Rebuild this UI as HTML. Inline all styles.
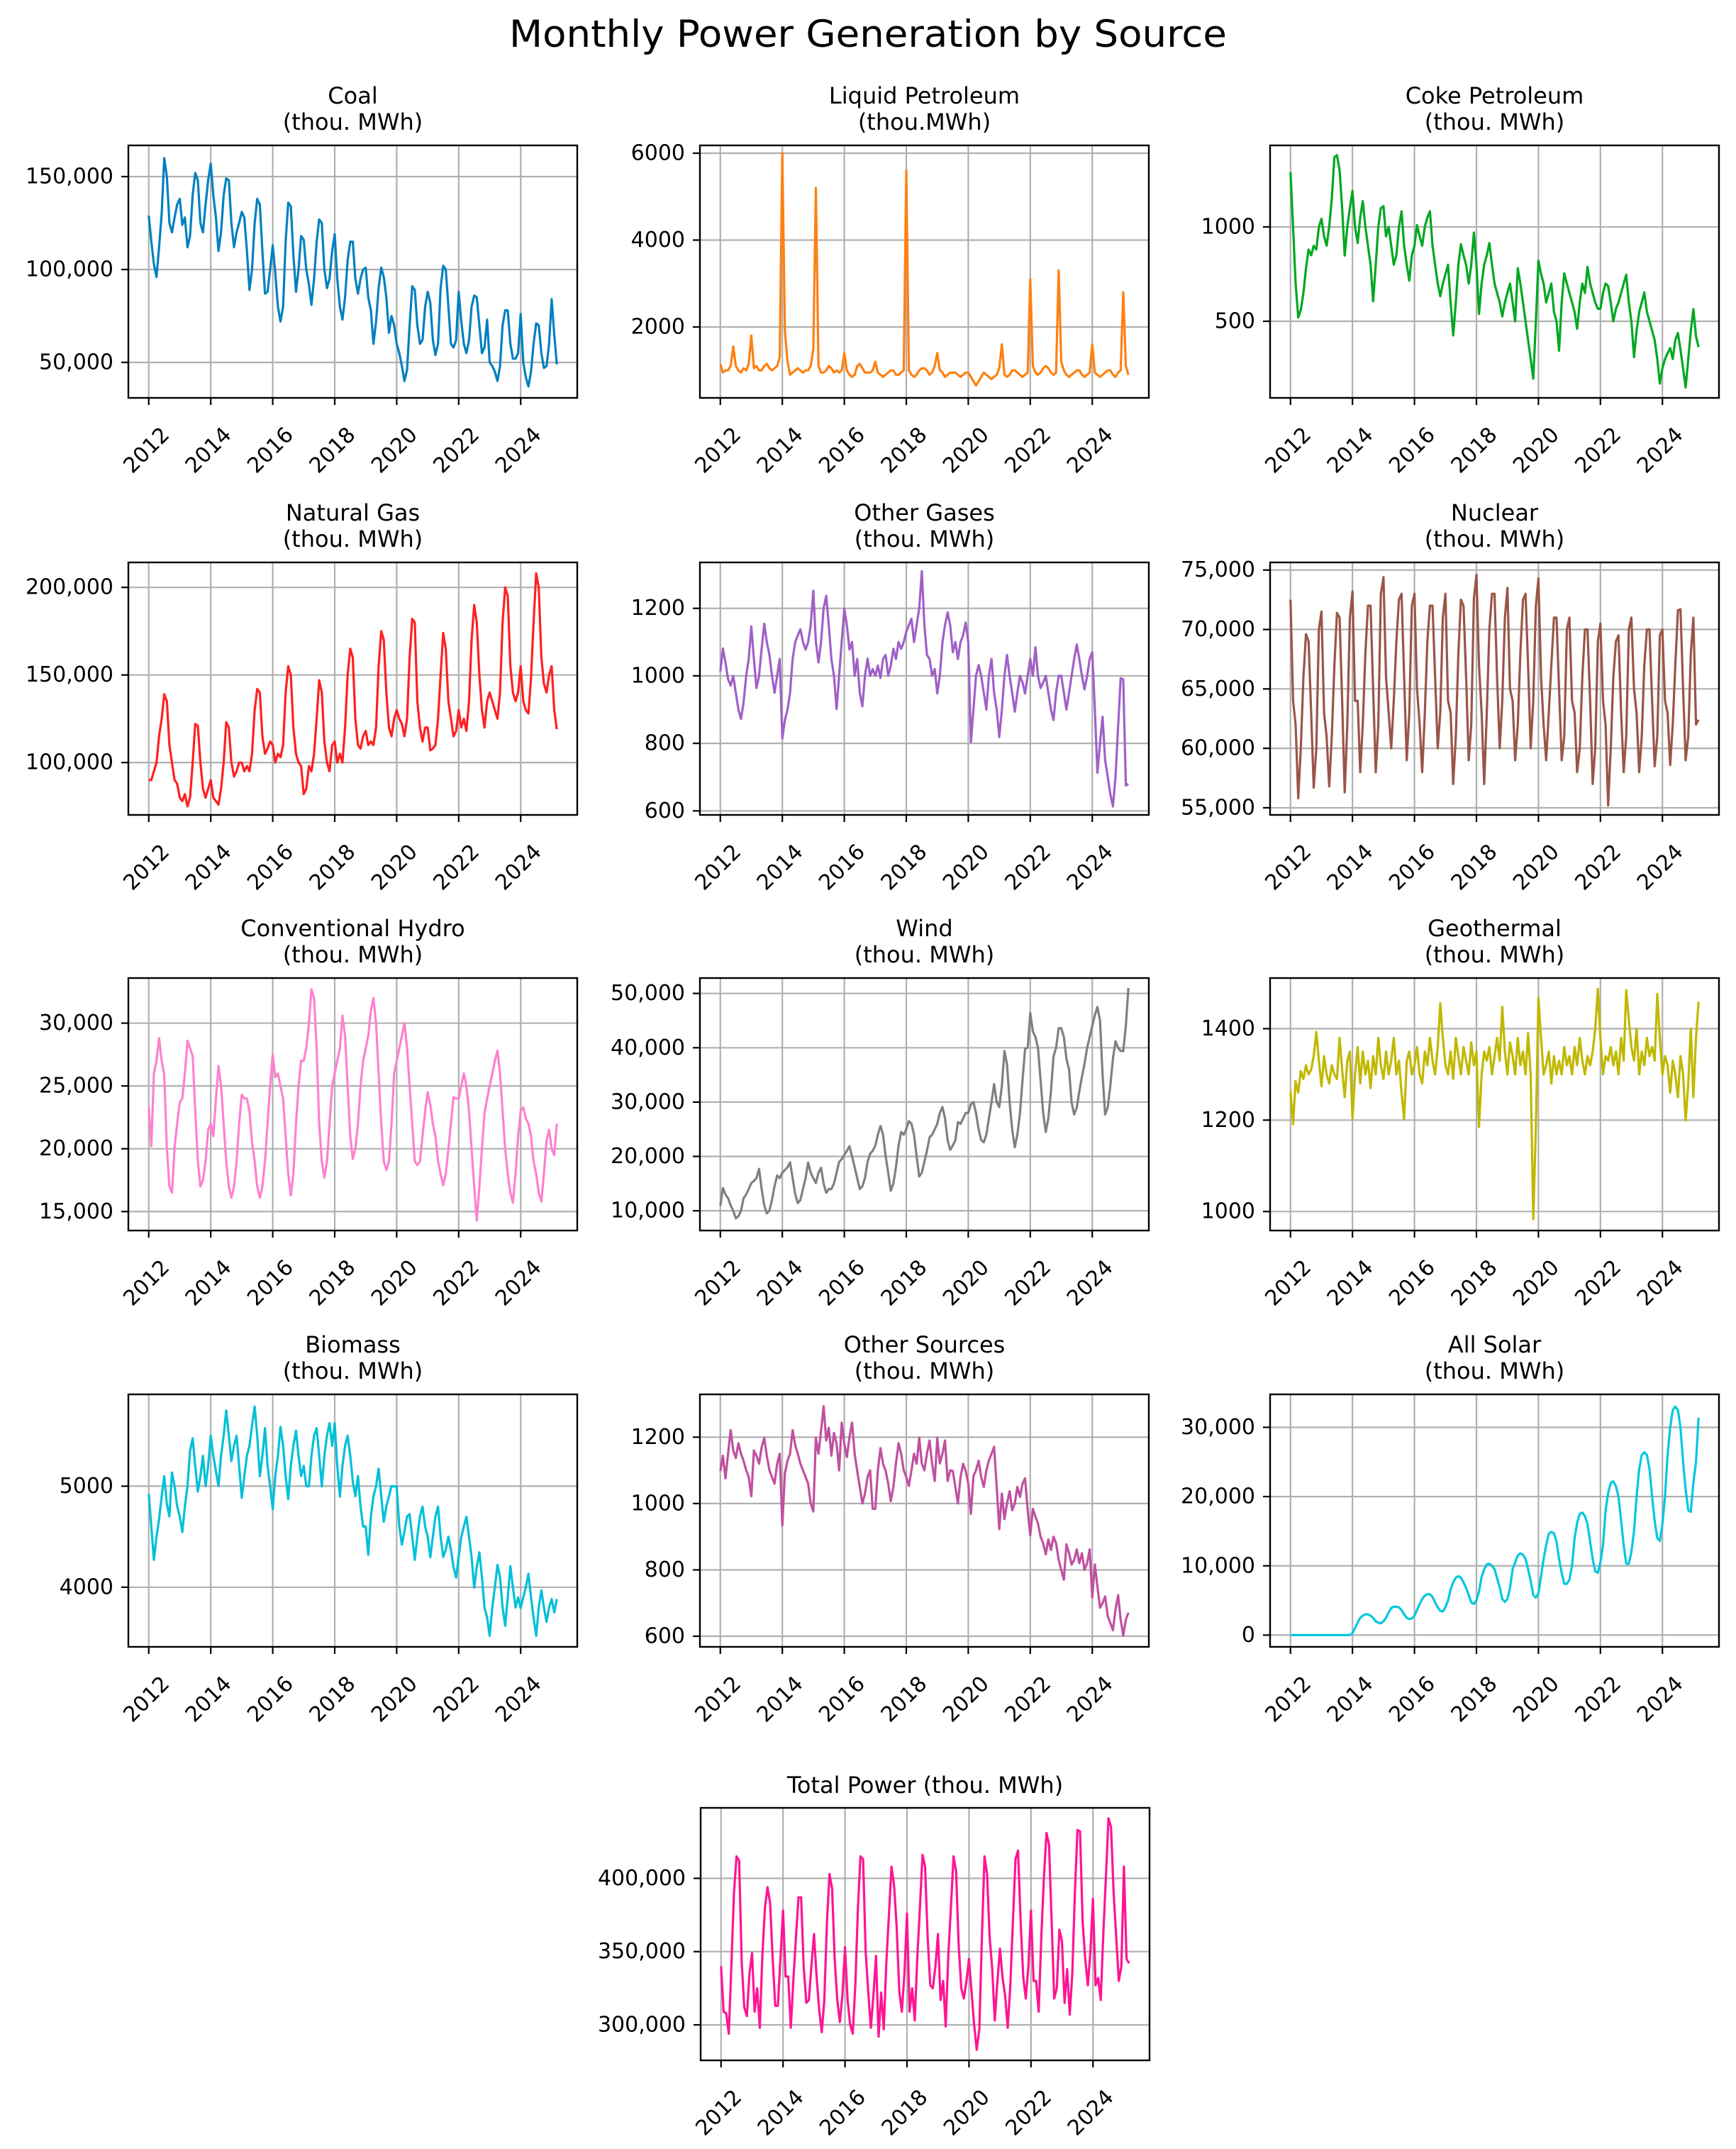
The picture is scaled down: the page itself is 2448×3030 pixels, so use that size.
<!DOCTYPE html>
<html><head><meta charset="utf-8"><title>Monthly Power Generation by Source</title>
<style>html,body{margin:0;padding:0;background:#fff}svg{display:block}text{font-family:"DejaVu Sans","Liberation Sans",sans-serif;fill:#000}</style>
</head><body>
<svg id="fig" xmlns="http://www.w3.org/2000/svg" width="2448" height="3030" viewBox="0 0 2448 3030">
<rect x="0" y="0" width="2448" height="3030" fill="#fff"/>
<text x="1224" y="66" font-size="53" text-anchor="middle" textLength="1012" lengthAdjust="spacingAndGlyphs">Monthly Power Generation by Source</text>
</svg>
<script>
const startYear = 2012;
const xTickYears = [2012, 2014, 2016, 2018, 2020, 2022, 2024];
const xTickLabels = ["2012", "2014", "2016", "2018", "2020", "2022", "2024"];

const coalValues = [129,115,103,96,112,130,160,150,125,120,128,135, 138,124,128,112,118,140,152,148,125,120,135,148, 157,140,128,110,120,140,149,148,125,112,120,125, 131,128,110,89,100,125,138,135,110,87,88,100, 113,98,80,72,80,115,136,134,108,88,100,118, 116,100,92,81,95,115,127,125,100,90,95,110, 119,95,80,73,85,105,115,115,95,87,95,100, 101,85,78,60,72,90,101,96,85,66,75,70, 60,55,48,40,46,70,91,89,70,60,62,80, 88,82,62,54,60,90,102,100,80,60,58,62, 88,72,60,55,62,80,86,85,70,55,58,73, 50,48,45,40,48,70,78,78,60,52,52,55, 76,50,42,37,45,60,71,70,55,47,48,60, 84,65,49];
const coalTicks = [50, 100, 150];
const coalTickLabels = ["50,000", "100,000", "150,000"];

const liquidValues = [1150,950,1000,1000,1100,1550,1100,1000,950,1050,1000,1150, 1800,1050,1100,1000,1000,1100,1150,1050,1000,1050,1100,1300, 6000,1900,1200,900,950,1000,1050,1000,950,1000,1000,1100, 1500,5200,1100,950,950,1000,1100,1050,950,1000,950,1000, 1400,1000,900,850,900,1100,1150,1050,950,950,950,1000, 1200,950,900,850,900,950,1000,1000,900,900,950,1000, 5600,1000,900,850,900,1000,1050,1050,1000,900,950,1100, 1400,1000,950,850,900,950,950,950,900,850,900,950, 950,850,750,650,750,850,950,900,850,800,850,900, 1050,1600,900,850,900,1000,1000,950,900,850,900,950, 3100,1100,950,900,950,1050,1100,1050,950,900,950,3300, 1200,1000,900,850,900,950,1000,1000,900,850,900,950, 1600,950,900,850,900,950,1000,1000,900,850,950,1000, 2800,1100,900];
const liquidTicks = [2000, 4000, 6000];
const liquidTickLabels = ["2000", "4000", "6000"];

const cokeValues = [1290,1000,700,520,560,650,780,880,850,900,880,1000, 1043,950,900,1000,1150,1370,1380,1300,1100,848,1000,1100, 1191,1000,915,1050,1137,1000,900,800,606,800,1000,1100, 1110,950,1000,900,800,850,1000,1083,900,800,715,850, 900,1009,950,900,1000,1050,1083,900,800,700,633,700, 750,800,600,425,600,800,908,850,800,700,800,970, 800,539,700,800,850,915,800,700,650,600,525,600, 650,700,600,500,781,700,600,500,400,300,196,500, 821,750,700,600,650,700,550,500,344,600,754,700, 650,600,550,460,600,700,650,788,700,650,600,566, 566,650,700,687,600,500,566,600,650,700,747,600, 500,310,450,550,600,653,550,500,450,400,300,170, 250,300,330,358,300,400,438,350,250,149,300,450, 564,420,363];
const cokeTicks = [500, 1000];
const cokeTickLabels = ["500", "1000"];

const gasValues = [90,90,95,100,115,125,139,135,110,100,90,88, 80,78,82,75,80,100,122,121,100,85,80,85, 90,80,78,76,85,100,123,120,100,92,95,100, 100,95,98,95,105,130,142,140,115,105,108,112, 110,100,105,103,110,140,155,150,120,105,100,98, 82,85,98,95,105,125,147,140,112,100,95,110, 112,100,105,100,120,150,165,160,125,110,108,115, 118,110,112,110,120,155,175,170,140,120,115,125, 130,125,122,115,125,160,182,180,135,120,112,120, 120,107,108,110,125,150,174,165,135,125,115,118, 130,120,125,118,135,170,190,180,150,130,120,135, 140,135,130,125,140,180,200,195,155,140,135,140, 155,135,130,128,148,180,208,200,160,145,140,150, 155,130,119];
const gasTicks = [100, 150, 200];
const gasTickLabels = ["100,000", "150,000", "200,000"];

const otherGasValues = [1013,1081,1040,990,971,1000,950,900,872,920,1000,1050, 1146,1050,964,1000,1080,1154,1100,1062,1000,950,1000,1050, 815,869,900,950,1050,1100,1120,1138,1100,1078,1100,1150, 1252,1100,1040,1100,1200,1237,1150,1050,1000,902,1000,1100, 1199,1150,1078,1100,1000,1050,950,910,1000,1051,1000,1020, 1000,1030,994,1050,1062,1000,1030,1080,1050,1100,1080,1100, 1131,1150,1169,1100,1150,1200,1310,1150,1062,1050,1000,1020, 948,1000,1100,1150,1188,1150,1070,1100,1050,1100,1120,1158, 1100,804,900,1000,1032,1000,950,900,1000,1050,950,900, 819,900,1000,1062,1000,950,894,950,1000,980,948,1000, 1050,1000,1085,1000,964,980,1000,950,900,869,950,1000, 1000,950,900,950,1000,1050,1093,1050,1000,960,1000,1050, 1070,900,713,800,879,750,700,650,613,700,850,993, 990,675,680];
const otherGasTicks = [600, 800, 1000, 1200];
const otherGasTickLabels = ["600", "800", "1000", "1200"];

const nuclearValues = [72.5,64,62,55.8,60,66,69.6,69,63,56.7,60,70, 71.5,63,61,56.8,61,67,71.4,71,64,56.3,62,71, 73.2,64,64,58,62,68,72,72,65,58,62,73, 74.4,66,63,60,64,69,72.5,73,66,59,63,72, 73,65,62,58,63,69,72,72,66,60,63,71, 73,64,63,57,61,68,72.5,72,66,59,62,72.6, 74.6,67,63,57,63,70,73,73,66,60,64,71, 73.5,65,64,59,62,68,72.5,73,67,60,64,72, 74.3,66,62,59,63,67,71,71,65,59,61,70, 71,64,63,58,60,66,70,70,64,57,60,69, 70.5,64,62,55.2,60,66,69,69.5,63,58,61,70, 71,65,63,58,61,67,70,70,64,58.5,61,69.5, 70,64,63,58.6,62,67,71.6,71.7,65,59,61,68, 71,62,62.4];
const nuclearTicks = [55, 60, 65, 70, 75];
const nuclearTickLabels = ["55,000", "60,000", "65,000", "70,000", "75,000"];

const hydroValues = [23.3,20.2,26,27,28.8,27,25.9,20,17,16.5,20.1,22, 23.7,24,26,28.6,28,27.4,23,19,17,17.5,19,21.5, 22,21,24,26.6,25,22,19,17,16.1,17,19,22, 24.3,24,24,23,20.5,19,17,16.1,17,19,22,25, 27.5,25.7,26,25,24,21,18,16.3,18,22,25,27, 27,28,30,32.7,32,28,22,19,17.7,19,22,25, 26,27,28,30.6,29,25,21,19.2,20,22,25,27, 28,29,31,32,30,26,22,19,18.3,19,22,26, 27,28,29,30,28,25,22,19,18.7,19,21,23, 24.5,23.5,22,21,19,18,17.1,18,20,22,24.1,24, 24,25,26,25,23,20,17,14.3,17,20,22.8,24, 25,26,27,27.8,26,23,20,18,16.5,15.7,18,21, 23,23.3,22.4,22,21,19,18,16.5,15.8,18,20.7,21.5, 20,19.5,22];
const hydroTicks = [15, 20, 25, 30];
const hydroTickLabels = ["15,000", "20,000", "25,000", "30,000"];

const windValues = [10.9,14.2,13,12.3,11,10,8.6,9,10,12.3,13,14, 15.1,15.5,16,17.7,14,11,9.5,10,12,14.5,16.5,16, 17,17.5,18,18.9,16,13,11.4,12,14,16,18.9,17, 16,15.1,17,17.9,15,13.3,14,14,15,17,19,19.5, 20.3,21,21.9,20,18,16,14,14.5,16,19,20.5,21, 22,24,25.6,24,20,17,13.7,15,18,22,24.5,24, 25,26.5,26,24,20,16.3,17,19,21,23.5,24,25, 26,28,29.1,27,23,21.2,22,23,26.3,26,27,28, 28,29.6,30,28,25,23,22.6,24,27,30,33.3,30, 29.1,33,39.4,37,30,25,21.7,24,28,34,39.8,40, 46.4,43,42,40,34,28,24.5,27,32,38.4,40,43.6, 43.6,42,38,36,30,27.7,29,32,34.7,37,40,42, 44,46,47.5,45,35,27.7,29,33,38,41.2,40,39.4, 39.4,44,51];
const windTicks = [10, 20, 30, 40, 50];
const windTickLabels = ["10,000", "20,000", "30,000", "40,000", "50,000"];

const geoValues = [1263,1191,1285,1260,1307,1290,1320,1300,1310,1340,1393,1330, 1274,1340,1300,1280,1320,1300,1290,1380,1310,1250,1330,1350, 1204,1300,1360,1280,1350,1300,1330,1270,1340,1300,1380,1320, 1290,1350,1300,1330,1380,1300,1330,1260,1202,1330,1350,1300, 1320,1360,1300,1280,1350,1320,1380,1330,1300,1360,1456,1380, 1320,1300,1350,1290,1380,1340,1300,1360,1330,1300,1370,1320, 1350,1185,1300,1350,1330,1360,1300,1340,1380,1330,1448,1350, 1300,1370,1340,1300,1380,1320,1350,1300,1390,1300,983,1185, 1468,1380,1300,1320,1350,1280,1340,1300,1330,1300,1360,1320, 1340,1300,1360,1320,1380,1330,1300,1340,1320,1350,1400,1487, 1380,1300,1340,1330,1360,1320,1350,1300,1380,1330,1484,1420, 1360,1330,1400,1300,1350,1320,1380,1340,1360,1330,1476,1380, 1300,1340,1320,1260,1330,1300,1250,1340,1300,1199,1280,1400, 1250,1380,1459];
const geoTicks = [1000, 1200, 1400];
const geoTickLabels = ["1000", "1200", "1400"];

const biomassValues = [4922,4600,4271,4500,4672,4900,5098,4822,4700,5135,5000,4800, 4700,4546,4800,5000,5348,5474,5200,4947,5100,5300,5000,5200, 5499,5300,5148,5000,5300,5500,5749,5500,5248,5400,5499,5200, 4885,5100,5300,5400,5600,5787,5500,5098,5300,5574,5200,5000, 4772,5100,5300,5586,5400,5100,4872,5200,5400,5549,5300,5100, 5200,5000,4997,5300,5500,5574,5300,4997,5300,5500,5624,5400, 5624,5200,4897,5200,5400,5499,5300,5048,4900,5100,4800,4600, 4600,4321,4700,4900,5000,5173,4900,4647,4800,4900,5000,4997, 4997,4600,4421,4550,4700,4722,4500,4271,4500,4700,4797,4600, 4500,4296,4500,4700,4797,4500,4300,4371,4500,4371,4200,4095, 4300,4500,4600,4697,4500,4300,3995,4200,4346,4100,3800,3700, 3519,3800,4000,4221,4100,3800,3619,3900,4208,4000,3800,3900, 3794,3900,4000,4133,3900,3700,3519,3800,3970,3800,3657,3800, 3882,3750,3882];
const biomassTicks = [4000, 5000];
const biomassTickLabels = ["4000", "5000"];

const otherSrcValues = [1098,1144,1076,1150,1221,1160,1137,1182,1150,1129,1100,1080, 1022,1160,1144,1120,1170,1198,1144,1100,1080,1060,1120,1150, 934,1091,1129,1150,1221,1175,1150,1120,1100,1080,1060,1000, 976,1198,1150,1220,1293,1190,1228,1144,1213,1180,1100,1244, 1180,1140,1200,1244,1150,1098,1050,1000,1030,1080,1100,984, 984,1100,1167,1120,1098,1060,1007,1050,1121,1182,1150,1100, 1080,1053,1100,1150,1120,1198,1121,1100,1150,1190,1120,1068, 1198,1121,1150,1190,1068,1100,1098,1050,1000,1080,1120,1098, 1060,969,1083,1100,1129,1080,1050,1100,1130,1150,1171,1050, 923,1030,953,1000,1037,980,1000,1050,1020,1060,1076,980, 904,984,960,940,900,880,847,892,860,900,880,830, 800,770,877,850,816,830,862,820,850,800,820,862, 717,816,750,686,700,720,660,640,618,680,724,650, 602,650,671];
const otherSrcTicks = [600, 800, 1000, 1200];
const otherSrcTickLabels = ["600", "800", "1000", "1200"];

const solarValues = [0,0,0,0,0,0,0,0,0,0,0,0, 0,0,0,0,0,0,0,0,0,0,0,0, 0.3,1.0,1.8,2.5,2.8,3.0,3.0,2.8,2.5,2.0,1.8,1.7, 2.0,2.5,3.3,3.9,4.1,4.1,4.0,3.6,3.0,2.5,2.3,2.4, 2.8,3.6,4.5,5.2,5.7,5.9,5.9,5.5,4.7,4.0,3.5,3.4, 4.0,5.0,6.6,7.6,8.3,8.5,8.3,7.6,6.8,5.8,4.7,4.5, 5.0,6.3,8.4,9.5,10.2,10.3,10.0,9.5,8.2,6.9,5.2,4.8, 5.2,6.8,9.5,10.5,11.5,11.8,11.6,11.0,9.5,7.8,5.8,5.4, 6.0,8.5,11.0,13.0,14.6,14.9,14.7,13.5,11.0,9.0,7.4,7.4, 8.0,10.0,14.0,16.2,17.5,17.7,17.2,16.0,13.5,11.0,9.2,9.0, 10.5,13.0,18.0,20.5,22.0,22.2,21.5,20.0,16.5,13.0,10.3,10.3, 12.0,15.0,20.0,24.0,26.0,26.4,26.0,24.0,20.0,16.5,14.0,13.6, 16.0,20.0,26.0,30.0,32.5,33.0,32.5,30.0,25.0,21.0,18.0,17.8, 22.0,25.0,31.4];
const solarTicks = [0, 10, 20, 30];
const solarTickLabels = ["0", "10,000", "20,000", "30,000"];

const totalValues = [340,309,308,294,340,390,415,412,343,312,306,335, 349,309,325,298,347,380,394,383,345,313,313,345, 378,333,333,298,330,360,387,387,340,315,317,340, 362,333,310,295,317,370,403,393,345,317,302,320, 353,317,300,294,328,380,415,413,350,322,298,320, 347,292,322,297,343,375,408,395,367,323,309,335, 376,309,325,303,347,380,416,408,360,327,325,340, 362,317,330,299,348,380,415,405,355,325,318,330, 345,322,300,283,297,360,415,403,360,338,303,330, 352,332,320,298,327,370,413,419,370,333,318,340, 378,330,330,309,360,400,431,423,370,318,325,365, 357,315,338,307,335,390,433,432,370,345,327,350, 386,327,332,317,362,400,441,435,390,360,330,340, 408,345,342];
const totalTicks = [300, 350, 400];
const totalTickLabels = ["300,000", "350,000", "400,000"];

const NS = "http://www.w3.org/2000/svg";
const svg = document.getElementById("fig");
const AX_W = 633, AX_H = 356;
const XMIN = 2011.342, XMAX = 2025.825;

function el(tag, attrs, parent) {
  const e = document.createElementNS(NS, tag);
  for (const k in attrs) e.setAttribute(k, attrs[k]);
  parent.appendChild(e);
  return e;
}

function chart(key, titleLines, color, values, ylim, ticks, tickLabels, left, top) {
  const g = el("g", {}, svg);
  
  
  const xs = v => left + (v - XMIN) / (XMAX - XMIN) * AX_W;
  const ys = v => top + AX_H - (v - ylim[0]) / (ylim[1] - ylim[0]) * AX_H;
  const cx = left + AX_W / 2;
  // title
  const tt = el("text", {x: cx, "font-size": 32, "text-anchor": "middle"}, g);
  
  
  if (titleLines.length === 2) {
    el("tspan", {x: cx, y: top - 59}, tt).textContent = titleLines[0];
    el("tspan", {x: cx, y: top - 22}, tt).textContent = titleLines[1];
  } else {
    el("tspan", {x: cx, y: top - 21}, tt).textContent = titleLines[0];
  }
  // grid x
  xTickYears.forEach((yr, i) => {
    const x = xs(yr);
    const gl = el("line", {x1: x, x2: x, y1: top, y2: top + AX_H, stroke: "#b0b0b0", "stroke-width": 2.2}, g);
    
    
    el("line", {x1: x, x2: x, y1: top + AX_H, y2: top + AX_H + 10, stroke: "#000", "stroke-width": 2.2}, g);
    const ty = top + AX_H + 74;
    const lbl = el("text", {x: x - 3, y: ty, "font-size": 30, "text-anchor": "middle", "dominant-baseline": "central", transform: `rotate(-45 ${x - 3} ${ty})`}, g);
    
    
    lbl.textContent = xTickLabels[i];
  });
  ticks.forEach((t, i) => {
    const y = ys(t);
    const gl = el("line", {x1: left, x2: left + AX_W, y1: y, y2: y, stroke: "#b0b0b0", "stroke-width": 2.2}, g);
    
    
    el("line", {x1: left - 10, x2: left, y1: y, y2: y, stroke: "#000", "stroke-width": 2.2}, g);
    const lbl = el("text", {x: left - 21, y: y, "font-size": 30, "text-anchor": "end", "dominant-baseline": "central"}, g);
    
    
    lbl.textContent = tickLabels[i];
  });
  const pts = values.map((v, i) => xs(startYear + i / 12).toFixed(1) + "," + ys(v).toFixed(1)).join(" ");
  const line = el("polyline", {points: pts, fill: "none", stroke: color, "stroke-width": 3.2, "stroke-linejoin": "round"}, g);
  
  
  const frame = el("rect", {x: left, y: top, width: AX_W, height: AX_H, fill: "none", stroke: "#000", "stroke-width": 2.4}, g);
  
  
}

const C = [181, 987, 1791], R = [205, 793, 1379, 1966];
chart("coal", ["Coal", "(thou. MWh)"], "#0080c0", coalValues, [30.9, 166.8], coalTicks, coalTickLabels, C[0], R[0]);
chart("liquid-petroleum", ["Liquid Petroleum", "(thou.MWh)"], "#ff8010", liquidValues, [367, 6180], liquidTicks, liquidTickLabels, C[1], R[0]);
chart("coke-petroleum", ["Coke Petroleum", "(thou. MWh)"], "#00a820", cokeValues, [94, 1432], cokeTicks, cokeTickLabels, C[2], R[0]);
chart("natural-gas", ["Natural Gas", "(thou. MWh)"], "#ff2020", gasValues, [70.1, 214.25], gasTicks, gasTickLabels, C[0], R[1]);
chart("other-gases", ["Other Gases", "(thou. MWh)"], "#a060c8", otherGasValues, [588, 1336], otherGasTicks, otherGasTickLabels, C[1], R[1]);
chart("nuclear", ["Nuclear", "(thou. MWh)"], "#9a5548", nuclearValues, [54.4, 75.64], nuclearTicks, nuclearTickLabels, C[2], R[1]);
chart("conventional-hydro", ["Conventional Hydro", "(thou. MWh)"], "#ff80d0", hydroValues, [13.49, 33.59], hydroTicks, hydroTickLabels, C[0], R[2]);
chart("wind", ["Wind", "(thou. MWh)"], "#808080", windValues, [6.36, 52.83], windTicks, windTickLabels, C[1], R[2]);
chart("geothermal", ["Geothermal", "(thou. MWh)"], "#c0b800", geoValues, [958.4, 1510.8], geoTicks, geoTickLabels, C[2], R[2]);
chart("biomass", ["Biomass", "(thou. MWh)"], "#00c0d8", biomassValues, [3410, 5908], biomassTicks, biomassTickLabels, C[0], R[3]);
chart("other-sources", ["Other Sources", "(thou. MWh)"], "#c050a0", otherSrcValues, [568, 1329], otherSrcTicks, otherSrcTickLabels, C[1], R[3]);
chart("all-solar", ["All Solar", "(thou. MWh)"], "#00c8e0", solarValues, [-1.7, 34.76], solarTicks, solarTickLabels, C[2], R[3]);
chart("total-power", ["Total Power (thou. MWh)"], "#ff1493", totalValues, [275.8, 448.1], totalTicks, totalTickLabels, 988, 2549);
</script>
</body></html>
